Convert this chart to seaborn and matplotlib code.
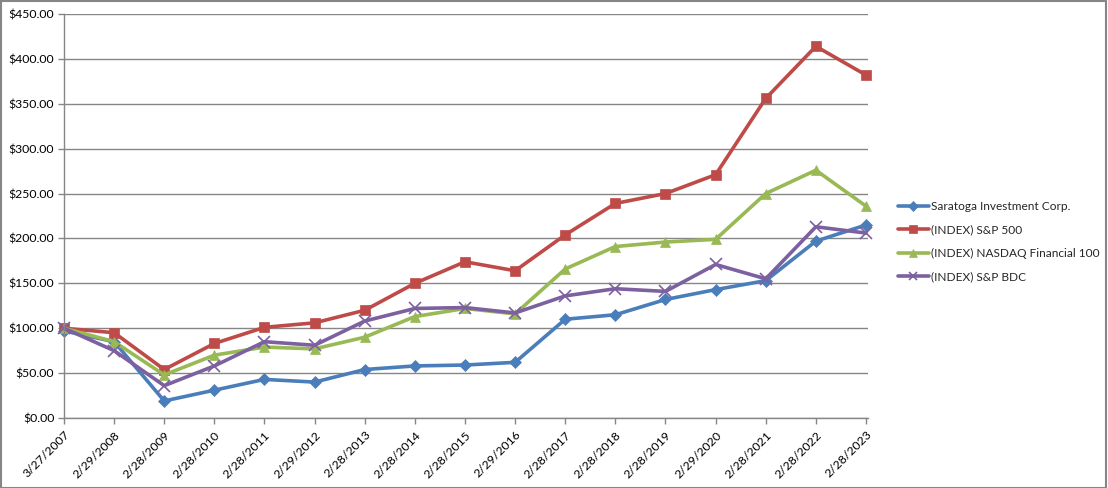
import matplotlib
matplotlib.use("Agg")
import matplotlib.pyplot as plt
import matplotlib.patches as mpatches
from matplotlib.ticker import FuncFormatter, MultipleLocator
import seaborn as sns
import pandas as pd

dates = ["3/27/2007", "2/29/2008", "2/28/2009", "2/28/2010", "2/28/2011", "2/29/2012",
         "2/28/2013", "2/28/2014", "2/28/2015", "2/29/2016", "2/28/2017", "2/28/2018",
         "2/28/2019", "2/29/2020", "2/28/2021", "2/28/2022", "2/28/2023"]
saratoga = [97, 85, 19, 31, 43, 40, 54, 58, 59, 62, 110, 115, 132, 143, 153, 197, 215]
sp500 = [100, 95, 54, 83, 101, 106, 120, 150, 174, 164, 204, 239, 250, 271, 356, 414, 382]
nasdaq_fin = [100, 85, 48, 70, 79, 77, 90, 113, 122, 116, 166, 191, 196, 199, 250, 276, 236]
sp_bdc = [100, 75, 36, 58, 85, 81, 108, 122, 123, 117, 136, 144, 141, 171, 155, 213, 206]
series_names = ["Saratoga Investment Corp.", "(INDEX) S&P 500",
                "(INDEX) NASDAQ Financial 100", "(INDEX) S&P BDC"]

sns.set_theme(style="white")
plt.rcParams['font.family'] = ['Lato', 'DejaVu Sans']

fig = plt.figure(figsize=(11.08, 4.88), dpi=100)
ax = fig.add_axes([64/1108, 70/488, 804/1108, 404/488])

idx = list(range(len(dates)))
styles = [
    (saratoga, "#4A7EBB", "D", 6),
    (sp500, "#BE4B48", "s", 7),
    (nasdaq_fin, "#98B954", "^", 7),
    (sp_bdc, "#7D60A0", "x", 8),
]
for name, (vals, col, mk, ms) in zip(series_names, styles):
    df = pd.DataFrame({"x": idx, "y": vals})
    sns.lineplot(data=df, x="x", y="y", ax=ax, color=col, linewidth=2.6,
                 marker=mk, markersize=ms, markeredgecolor=col,
                 markeredgewidth=1.2 if mk == "x" else 0.5, label=name, clip_on=False)

ax.set_xlim(0, 16.04)
ax.set_ylim(0, 450)
ax.yaxis.set_major_locator(MultipleLocator(50))
ax.yaxis.set_major_formatter(FuncFormatter(lambda v, p: f"${v:,.2f}".replace(",", "")))
ax.set_xticks(idx)
ax.set_xticklabels(dates, rotation=45, ha="right", rotation_mode="anchor")
ax.set_xlabel("")
ax.set_ylabel("")
ax.grid(axis="y", color="#868686", linewidth=1)
ax.set_axisbelow(True)
for s in ["top", "right"]:
    ax.spines[s].set_visible(False)
for s in ["left", "bottom"]:
    ax.spines[s].set_color("#868686")
    ax.spines[s].set_linewidth(1)
ax.tick_params(axis="both", which="major", length=4, width=1, color="#868686",
               direction="out", labelsize=8.8, labelcolor="black", pad=3)
ax.tick_params(axis="x", pad=4)
ax.tick_params(left=True, bottom=True)

handles, labels = ax.get_legend_handles_labels()
ax.get_legend().remove()
leg = fig.legend(handles, labels, loc="upper left", bbox_to_anchor=(893/1108, 1 - 196/488),
                 frameon=False, fontsize=8.6, handlelength=2.6, handletextpad=0.2,
                 labelspacing=1.05, borderaxespad=0, markerscale=0.8)

fig.patches.append(mpatches.Rectangle((0.0005, 0.001), 0.998, 0.997, transform=fig.transFigure,
                                      fill=False, edgecolor="#868686", linewidth=1.5))

fig.savefig("out.png", dpi=100)
